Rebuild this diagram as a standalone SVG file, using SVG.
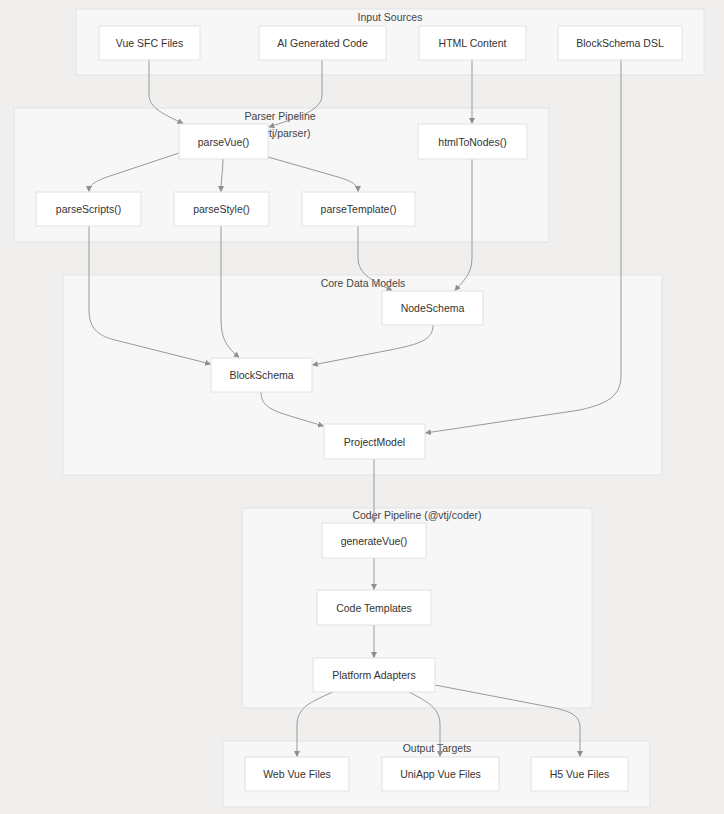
<svg xmlns="http://www.w3.org/2000/svg" width="724" height="814" viewBox="0 0 724 814">
<defs>
<marker id="arr" viewBox="0 0 10 10" refX="9" refY="5" markerWidth="6" markerHeight="6" markerUnits="userSpaceOnUse" orient="auto">
<path d="M0,0 L10,5 L0,10 z" fill="#8f8f8f"/>
</marker>
<style>
.cl{fill:#f7f7f7;stroke:#e3e3e3;stroke-width:1}
.nd{fill:#ffffff;stroke:#e2e2e2;stroke-width:1}
.t{font-family:"Liberation Sans",Arial,sans-serif;font-size:10.5px;fill:#333;text-anchor:middle;dominant-baseline:central}
.ct{font-family:"Liberation Sans",Arial,sans-serif;font-size:10.5px;fill:#444;text-anchor:middle;dominant-baseline:central}
.e{fill:none;stroke:#999;stroke-width:1;marker-end:url(#arr)}
</style>
</defs>
<rect width="724" height="814" fill="#f0efee"/>

<g id="clusters">
<g id="input-sources"><rect class="cl" x="76" y="9" width="628" height="66"/><text class="ct" x="390" y="17">Input Sources</text></g>
<g id="parser-pipeline"><rect class="cl" x="14" y="108" width="535" height="134"/><text class="ct" x="280" y="116">Parser Pipeline</text><text class="ct" x="280" y="133">(@vtj/parser)</text></g>
<g id="core-data-models"><rect class="cl" x="63" y="275" width="599" height="200"/><text class="ct" x="363" y="283">Core Data Models</text></g>
<g id="coder-pipeline"><rect class="cl" x="242" y="508" width="350" height="200"/><text class="ct" x="417" y="515">Coder Pipeline (@vtj/coder)</text></g>
<g id="output-targets"><rect class="cl" x="223" y="741" width="427" height="66"/><text class="ct" x="437" y="748">Output Targets</text></g>
</g>

<g id="connectors">
<path class="e" d="M149,60 V95 C149,108 165,115 183,123.5"/>
<path class="e" d="M322,60 V95 C322,110 300,117 269,127"/>
<path class="e" d="M472,60 V123.5"/>
<path class="e" d="M621,60 V375 C621,395 610,403 580,410 L425.5,433"/>
<path class="e" d="M179,153 L110,176 C95,181 89,185 89,191.5"/>
<path class="e" d="M223,159 C223,170 221,180 221,191.5"/>
<path class="e" d="M268,157 L338,177 C352,181 358,185 358,191.5"/>
<path class="e" d="M89,226 V310 C89,330 100,336 115,340 L210.5,364"/>
<path class="e" d="M221,226 V320 C221,340 228,348 239,357.5"/>
<path class="e" d="M358,226 V258 C358,275 375,282 392,290.5"/>
<path class="e" d="M472,159 V258 C472,275 462,282 455,290.5"/>
<path class="e" d="M433,325 C433,340 420,344 390,350 L312.5,365"/>
<path class="e" d="M261,392 C261,405 270,410 290,416 L323.5,426"/>
<path class="e" d="M374,459 V522.5"/>
<path class="e" d="M374,558 V589.5"/>
<path class="e" d="M374,625 V657.5"/>
<path class="e" d="M333,692 C310,702 297,708 297,725 V756.5"/>
<path class="e" d="M409,692 C428,702 440,708 440,725 V756.5"/>
<path class="e" d="M435,685 L555,708 C572,712 580,716 580,728 V756.5"/>
</g>

<g id="n-vue-sfc"><rect class="nd" x="99" y="26" width="101" height="34"/><text class="t" x="149.5" y="43">Vue SFC Files</text></g>
<g id="n-ai-code"><rect class="nd" x="259" y="26" width="127" height="34"/><text class="t" x="322.5" y="43">AI Generated Code</text></g>
<g id="n-html"><rect class="nd" x="419" y="26" width="107" height="34"/><text class="t" x="472.5" y="43">HTML Content</text></g>
<g id="n-dsl"><rect class="nd" x="558" y="26" width="124" height="34"/><text class="t" x="620" y="43">BlockSchema DSL</text></g>

<g id="n-parsevue"><rect class="nd" x="179" y="124" width="89" height="35"/><text class="t" x="223.5" y="141.5">parseVue()</text></g>
<g id="n-htmltonodes"><rect class="nd" x="418" y="124" width="109" height="35"/><text class="t" x="472.5" y="141.5">htmlToNodes()</text></g>
<g id="n-parsescripts"><rect class="nd" x="36" y="192" width="105" height="34"/><text class="t" x="88.5" y="209">parseScripts()</text></g>
<g id="n-parsestyle"><rect class="nd" x="174" y="192" width="95" height="34"/><text class="t" x="221.5" y="209">parseStyle()</text></g>
<g id="n-parsetemplate"><rect class="nd" x="302" y="192" width="113" height="34"/><text class="t" x="358.5" y="209">parseTemplate()</text></g>

<g id="n-nodeschema"><rect class="nd" x="382" y="291" width="101" height="34"/><text class="t" x="432.5" y="308">NodeSchema</text></g>
<g id="n-blockschema"><rect class="nd" x="211" y="358" width="101" height="34"/><text class="t" x="261.5" y="375">BlockSchema</text></g>
<g id="n-projectmodel"><rect class="nd" x="324" y="424" width="101" height="35"/><text class="t" x="374.5" y="441.5">ProjectModel</text></g>

<g id="n-generatevue"><rect class="nd" x="322" y="523" width="104" height="35"/><text class="t" x="374" y="540.5">generateVue()</text></g>
<g id="n-codetemplates"><rect class="nd" x="317" y="590" width="114" height="35"/><text class="t" x="374" y="607.5">Code Templates</text></g>
<g id="n-platform"><rect class="nd" x="313" y="658" width="122" height="34"/><text class="t" x="374" y="675">Platform Adapters</text></g>

<g id="n-web"><rect class="nd" x="245" y="757" width="104" height="34"/><text class="t" x="297" y="774">Web Vue Files</text></g>
<g id="n-uniapp"><rect class="nd" x="382" y="757" width="117" height="34"/><text class="t" x="440.5" y="774">UniApp Vue Files</text></g>
<g id="n-h5"><rect class="nd" x="531" y="757" width="97" height="34"/><text class="t" x="579.5" y="774">H5 Vue Files</text></g>
</svg>
